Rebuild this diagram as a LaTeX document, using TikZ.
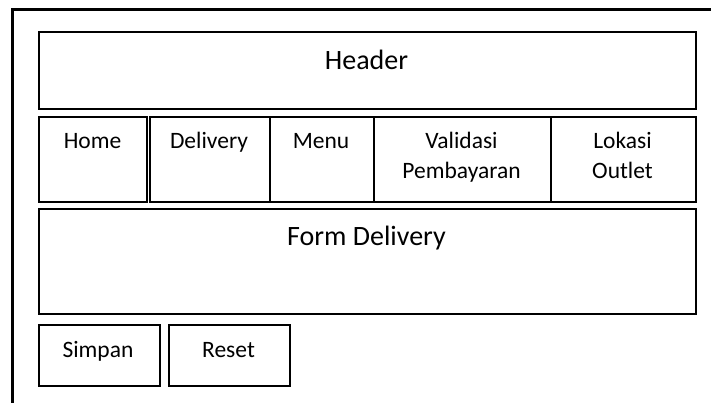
\documentclass[tikz,border=0pt]{standalone}
\usepackage{fontspec}
\setmainfont{Carlito}
\tikzset{
  box/.style={draw=black, line width=2pt, anchor=north west, inner sep=0pt},
  big/.style={anchor=base, inner sep=0pt, font=\fontsize{28}{34}\selectfont},
  small/.style={anchor=base, inner sep=0pt, font=\fontsize{23.5}{30}\selectfont, align=center},
}
\begin{document}
\begin{tikzpicture}[x=1pt,y=1pt]
\useasboundingbox (0,0) rectangle (711,-403);
\clip (0,0) rectangle (711,-403);
\draw[line width=3pt] (12.5,-420) -- (12.5,-10) -- (730,-10);
% boxes
\node[box, minimum width=657pt, minimum height=77pt] (header) at (38,-31) {};
\node[box, minimum width=108pt, minimum height=85pt] (home) at (38,-116) {};
\node[box, minimum width=120pt, minimum height=85pt] (delivery) at (149,-116) {};
\node[box, minimum width=104pt, minimum height=85pt] (menu) at (269,-116) {};
\node[box, minimum width=177pt, minimum height=85pt] (validasi) at (373,-116) {};
\node[box, minimum width=145pt, minimum height=85pt] (lokasi) at (550,-116) {};
\node[box, minimum width=657pt, minimum height=105pt] (form) at (38,-208) {};
\node[box, minimum width=121pt, minimum height=61pt] (simpan) at (38,-324) {};
\node[box, minimum width=121pt, minimum height=61pt] (reset) at (168,-324) {};
% texts
\node[big] (headerT) at (366.5,-70) {Header};
\node[small] (homeT) at (92.5,-149) {Home};
\node[small] (deliveryT) at (209,-149) {Delivery};
\node[small] (menuT) at (321,-149) {Menu};
\node[small] (validasiT) at (461.5,-149) {Validasi};
\node[small] (pembayaranT) at (461.5,-179) {Pembayaran};
\node[small] (lokasiT) at (622.5,-149) {Lokasi};
\node[small] (outletT) at (622.5,-179) {Outlet};
\node[big] (formT) at (366.5,-245) {Form Delivery};
\node[small] (simpanT) at (98,-357) {Simpan};
\node[small] (resetT) at (228.5,-357) {Reset};
\end{tikzpicture}
\end{document}
